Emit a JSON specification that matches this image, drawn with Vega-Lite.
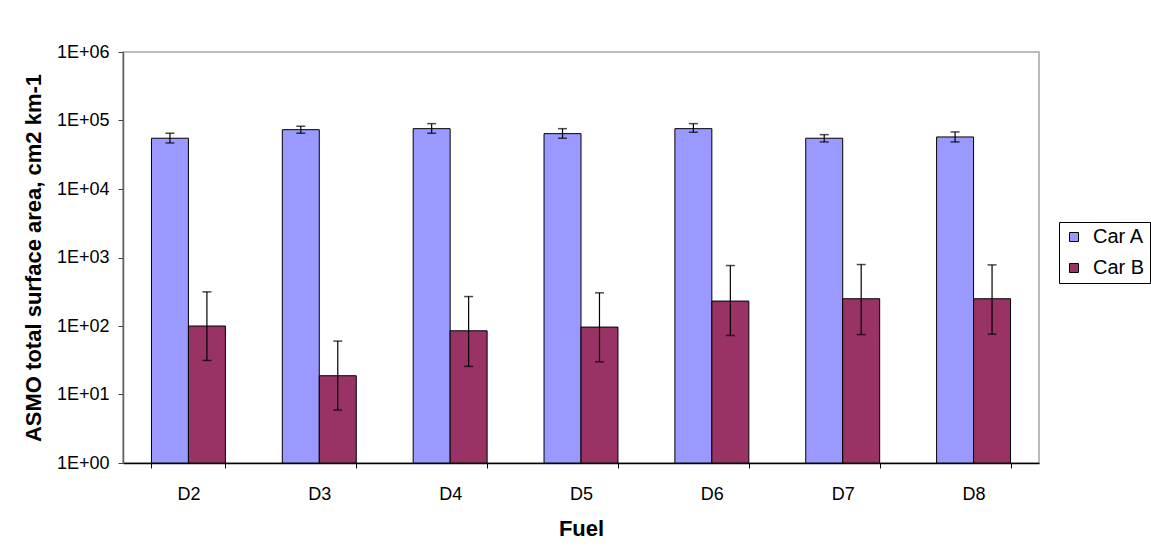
{
  "$schema": "https://vega.github.io/schema/vega-lite/v6.json",
  "autosize": "none",
  "width": 916,
  "height": 411,
  "padding": {"left": 123, "top": 52, "right": 112, "bottom": 92},
  "background": "white",
  "config": {"font": "Liberation Sans", "view": {"stroke": "#a6a6a6", "strokeWidth": 1.5}},
  "data": {"values": [
    {"fuel": "D2", "car": "Car A", "value": 55100, "lo": 47000, "hi": 65200},
    {"fuel": "D3", "car": "Car A", "value": 73500, "lo": 65200, "hi": 82400},
    {"fuel": "D4", "car": "Car A", "value": 76000, "lo": 65200, "hi": 90000},
    {"fuel": "D5", "car": "Car A", "value": 64300, "lo": 55100, "hi": 76000},
    {"fuel": "D6", "car": "Car A", "value": 76000, "lo": 67400, "hi": 90000},
    {"fuel": "D7", "car": "Car A", "value": 55100, "lo": 48600, "hi": 62200},
    {"fuel": "D8", "car": "Car A", "value": 57500, "lo": 48600, "hi": 68100},
    {"fuel": "D2", "car": "Car B", "value": 100, "lo": 31.4, "hi": 315},
    {"fuel": "D3", "car": "Car B", "value": 18.8, "lo": 5.93, "hi": 60.2},
    {"fuel": "D4", "car": "Car B", "value": 85.1, "lo": 25.7, "hi": 269},
    {"fuel": "D5", "car": "Car B", "value": 96.4, "lo": 30, "hi": 305},
    {"fuel": "D6", "car": "Car B", "value": 231, "lo": 72.7, "hi": 763},
    {"fuel": "D7", "car": "Car B", "value": 250, "lo": 75, "hi": 789},
    {"fuel": "D8", "car": "Car B", "value": 250, "lo": 76, "hi": 780}
  ]},
  "encoding": {
    "x": {
      "field": "fuel", "type": "nominal", "sort": null, "title": "Fuel",
      "scale": {"paddingInner": 0.435, "paddingOuter": 0.2175},
      "axis": {
        "labelAngle": 0, "tickBand": "extent", "tickSize": 5, "tickColor": "black",
        "domainColor": "black", "domainWidth": 1.5, "labelFontSize": 18, "labelPadding": 17,
        "labelColor": "black", "titleFontSize": 22, "titleFontWeight": "bold", "titleColor": "black",
        "titlePadding": 15
      }
    },
    "xOffset": {"field": "car", "type": "nominal", "scale": {"paddingInner": 0, "paddingOuter": 0}}
  },
  "layer": [
    {
      "mark": {"type": "bar", "stroke": "black", "strokeWidth": 1},
      "encoding": {
        "y": {
          "field": "value", "type": "quantitative", "title": "ASMO total surface area, cm2 km-1",
          "scale": {"type": "log", "domain": [1, 1000000]},
          "axis": {
            "values": [1, 10, 100, 1000, 10000, 100000, 1000000],
            "labelExpr": "'1E+' + format(round(log(datum.value)/LN10), '02d')",
            "grid": false, "tickSize": 5, "tickColor": "#404040", "domainColor": "#606060", "domainWidth": 1.5,
            "labelFontSize": 18, "labelPadding": 9, "labelColor": "black",
            "titleFontSize": 22, "titleFontWeight": "bold", "titleColor": "black", "titlePadding": 11
          }
        },
        "y2": {"datum": 1},
        "color": {
          "field": "car", "type": "nominal",
          "scale": {"domain": ["Car A", "Car B"], "range": ["#9999FF", "#993366"]},
          "legend": {
            "title": null, "orient": "none", "legendX": 936, "legendY": 170,
            "strokeColor": "black", "fillColor": "white", "padding": 5,
            "symbolType": "square", "symbolSize": 81, "symbolStrokeColor": "black", "symbolStrokeWidth": 1,
            "labelFontSize": 20, "labelColor": "black", "rowPadding": 11, "labelOffset": 9
          }
        }
      }
    },
    {
      "mark": {"type": "rule", "color": "black", "strokeWidth": 1.2},
      "encoding": {
        "y": {"field": "lo", "type": "quantitative", "title": "ASMO total surface area, cm2 km-1"},
        "y2": {"field": "hi"}
      }
    },
    {
      "mark": {"type": "tick", "color": "black", "size": 9, "thickness": 1.5},
      "encoding": {"y": {"field": "lo", "type": "quantitative", "title": "ASMO total surface area, cm2 km-1"}}
    },
    {
      "mark": {"type": "tick", "color": "black", "size": 9, "thickness": 1.5},
      "encoding": {"y": {"field": "hi", "type": "quantitative", "title": "ASMO total surface area, cm2 km-1"}}
    }
  ]
}
